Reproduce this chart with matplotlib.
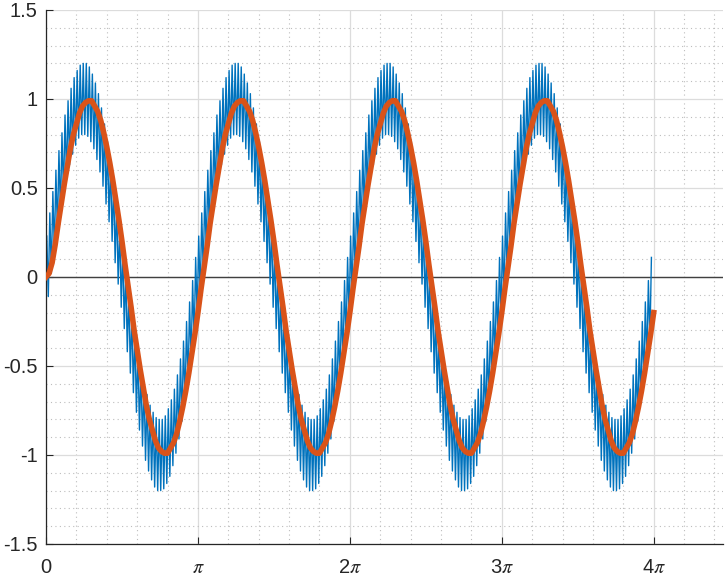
import numpy as np
import matplotlib.pyplot as plt
from matplotlib.ticker import MultipleLocator, FixedLocator

# signal bruité : sommets de l'ondulation sur une période (se répète 4 fois)
blue_cycle = [0.23, -0.11, 0.36, 0.02, 0.48, 0.14, 0.60, 0.25, 0.71, 0.36,
              0.81, 0.46, 0.91, 0.55, 0.99, 0.63, 1.06, 0.69, 1.12, 0.74,
              1.16, 0.78, 1.19, 0.80, 1.20, 0.80, 1.20, 0.79, 1.18, 0.76,
              1.14, 0.72, 1.09, 0.66, 1.03, 0.59, 0.95, 0.51, 0.86, 0.41,
              0.76, 0.31, 0.65, 0.20, 0.54, 0.08, 0.42, -0.04, 0.29, -0.17,
              0.17, -0.29, 0.04, -0.42, -0.08, -0.54, -0.20, -0.65, -0.31, -0.76,
              -0.41, -0.86, -0.51, -0.95, -0.59, -1.03, -0.66, -1.09, -0.72, -1.14,
              -0.76, -1.18, -0.79, -1.20, -0.80, -1.20, -0.80, -1.19, -0.78, -1.16,
              -0.74, -1.12, -0.69, -1.06, -0.63, -0.99, -0.55, -0.91, -0.46, -0.81,
              -0.36, -0.71, -0.25, -0.60, -0.14, -0.48, -0.02, -0.36, 0.11, -0.23]

# signal filtré : démarrage du filtre puis une période
orange_start = [0.00, 0.02, 0.08, 0.18]
orange_cycle = [0.30, 0.41, 0.52, 0.62, 0.72, 0.80, 0.86, 0.92, 0.96, 0.98,
                0.99, 0.99, 0.96, 0.93, 0.88, 0.81, 0.73, 0.64, 0.54, 0.43,
                0.32, 0.20, 0.07, -0.05, -0.17, -0.30, -0.41, -0.52, -0.62, -0.72,
                -0.80, -0.86, -0.92, -0.96, -0.98, -0.99, -0.99, -0.96, -0.93, -0.88,
                -0.81, -0.73, -0.64, -0.54, -0.43, -0.32, -0.20, -0.07, 0.05, 0.17]

n_cycles = 4
blue_step = 0.01 * np.pi
orange_step = 0.02 * np.pi

xtick_vals = [0, np.pi, 2*np.pi, 3*np.pi, 4*np.pi]
xtick_labels = ['0', r'$\pi$', r'2$\pi$', r'3$\pi$', r'4$\pi$']
ytick_vals = [-1.5, -1, -0.5, 0, 0.5, 1, 1.5]
ytick_labels = ['-1.5', '-1', '-0.5', '0', '0.5', '1', '1.5']

blue_y = np.tile(blue_cycle, n_cycles)[:-1]
blue_x = (np.arange(len(blue_y)) + 0.5) * blue_step
orange_y = np.concatenate([orange_start, np.tile(orange_cycle, n_cycles)])[:n_cycles*50 + 1]
orange_x = np.arange(len(orange_y)) * orange_step

plt.rcParams['font.family'] = ['Liberation Sans', 'DejaVu Sans']
plt.rcParams['mathtext.fontset'] = 'stix'

fig = plt.figure(figsize=(7.26, 5.77), dpi=100)
ax = fig.add_axes([0.0634, 0.0572, 0.9325, 0.9255])

ax.axhline(0, color='#404040', lw=1.0, zorder=1.5)
ax.plot(blue_x, blue_y, color='#0072BD', lw=1.0, zorder=2)
ax.plot(orange_x, orange_y, color='#D95319', lw=4.0, zorder=3)

ax.set_xlim(0, 14)
ax.set_ylim(-1.5, 1.5)
ax.xaxis.set_major_locator(FixedLocator(xtick_vals))
ax.set_xticklabels(xtick_labels)
ax.set_yticks(ytick_vals)
ax.set_yticklabels(ytick_labels)
ax.xaxis.set_minor_locator(MultipleLocator(np.pi/5))
ax.yaxis.set_minor_locator(MultipleLocator(0.1))

ax.grid(which='major', color='#dcdcdc', lw=0.9, zorder=0)
ax.grid(which='minor', color='#bdbdbd', lw=0.8, ls=(0, (1, 3)), zorder=0)
ax.set_axisbelow(True)

ax.spines['top'].set_visible(False)
ax.spines['right'].set_visible(False)
for s in ['left', 'bottom']:
    ax.spines[s].set_color('#262626')
    ax.spines[s].set_linewidth(0.9)
ax.tick_params(which='major', direction='in', length=5, color='#262626',
               labelcolor='#262626', labelsize=14.5)
ax.tick_params(axis='y', pad=6)
ax.tick_params(axis='x', pad=10)
ax.tick_params(which='minor', length=0)

fig.savefig('out.png', dpi=100)
